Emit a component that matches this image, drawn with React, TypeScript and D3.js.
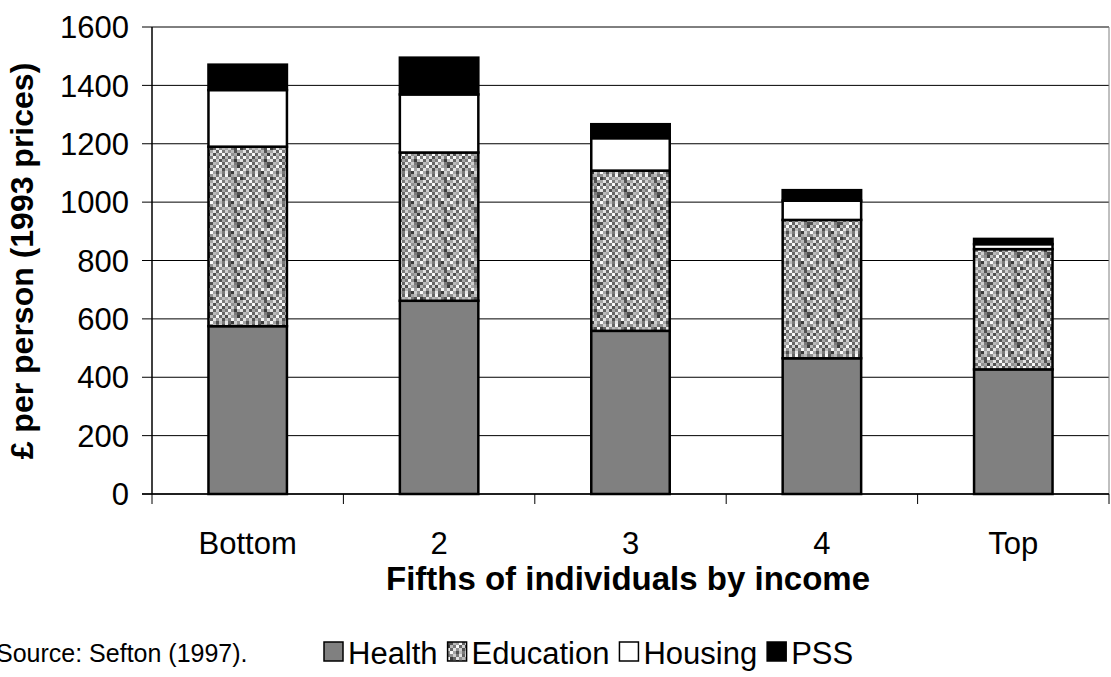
import React from "react";
import * as d3 from "d3";

const categories = ["Bottom", "2", "3", "4", "Top"];
const seriesNames = ["Health", "Education", "Housing", "PSS"];
const health = [575, 662, 559, 465, 427];
const education = [615, 508, 549, 474, 412];
const housing = [194, 199, 111, 66, 17];
const pss = [87, 126, 48, 36, 18];
const yTicks = [0, 200, 400, 600, 800, 1000, 1200, 1400, 1600];

const W = 1111;
const H = 677;
const left = 152;
const right = 1109;
const top = 27;
const bottom = 494;

// deterministic texture tile for the "Education" fill (grayscale levels 0-9)
const tile = [
  "5829374615",
  "7163928450",
  "3948162739",
  "8271539406",
  "1659284731",
  "6392718540",
  "2847163958",
  "9516382074",
  "4738291563",
  "0284657319",
];

// Arial / Liberation Sans advance widths (em) for legend layout
const EM: Record<string, number> = { Health: 2.89, Education: 4.447, Housing: 3.668, PSS: 2.001 };

export default function App() {
  const x = d3.scaleBand<string>().domain(categories).range([left, right]).paddingInner(0.59).paddingOuter(0.295);
  const band = d3.scaleBand<string>().domain(categories).range([left, right]);
  const y = d3.scaleLinear().domain([0, 1600]).range([bottom, top]);

  const table = categories.map((c, i) => ({
    cat: c,
    Health: health[i],
    Education: education[i],
    Housing: housing[i],
    PSS: pss[i],
  }));
  const stacked = d3.stack<any>().keys(seriesNames)(table);
  const fills: Record<string, string> = {
    Health: "#808080",
    Education: "url(#edu)",
    Housing: "#ffffff",
    PSS: "#000000",
  };
  const font = "'Liberation Sans', Arial, sans-serif";
  const px = 3;
  const grays = (d: string) => {
    const v = Math.round(60 + (+d) * 21);
    return `rgb(${v},${v},${v})`;
  };

  const legendFont = 31;
  let lx = 324;
  const legendItems = seriesNames.map((name) => {
    const item = { name, x: lx };
    lx += 24 + EM[name] * legendFont + 10;
    return item;
  });

  return (
    <svg width={W} height={H} style={{ position: "absolute", left: 0, top: 0 }} fontFamily={font}>
      <defs>
        <pattern id="edu" width={tile.length * px} height={tile.length * px} patternUnits="userSpaceOnUse">
          <rect width={tile.length * px} height={tile.length * px} fill="#a0a0a0" />
          {tile.map((row, r) =>
            row.split("").map((d, c) => (
              <rect key={`${r}-${c}`} x={c * px} y={r * px} width={px} height={px} fill={grays(d)} />
            ))
          )}
        </pattern>
      </defs>
      <rect width={W} height={H} fill="#fff" />
      {/* gridlines */}
      {yTicks.map((t) => (
        <line key={t} x1={142} x2={right} y1={y(t)} y2={y(t)} stroke="#000" strokeWidth={1} />
      ))}
      <line x1={right} x2={right} y1={top} y2={bottom} stroke="#808080" strokeWidth={1} />
      {/* bars */}
      {stacked.map((s) =>
        s.map((d, i) => (
          <rect
            key={s.key + i}
            x={x(categories[i])}
            width={x.bandwidth()}
            y={y(d[1])}
            height={y(d[0]) - y(d[1])}
            fill={fills[s.key]}
            stroke="#000"
            strokeWidth={2.5}
          />
        ))
      )}
      {/* axes */}
      <line x1={left} x2={left} y1={top} y2={bottom} stroke="#000" strokeWidth={1.5} />
      <line x1={142} x2={right} y1={bottom} y2={bottom} stroke="#000" strokeWidth={1.5} />
      {categories.map((c) => (
        <line key={c} x1={band(c)!} x2={band(c)!} y1={bottom} y2={bottom + 10} stroke="#000" strokeWidth={1} />
      ))}
      <line x1={right} x2={right} y1={bottom} y2={bottom + 10} stroke="#000" strokeWidth={1} />
      {yTicks.map((t) => (
        <text key={t} x={129} y={y(t)} dy="0.36em" textAnchor="end" fontSize={31}>
          {t}
        </text>
      ))}
      {categories.map((c) => (
        <text key={c} x={band(c)! + band.bandwidth() / 2} y={554} textAnchor="middle" fontSize={31}>
          {c}
        </text>
      ))}
      <text x={628} y={590} textAnchor="middle" fontSize={33} fontWeight="bold">
        Fifths of individuals by income
      </text>
      <text
        transform={`translate(33, 261) rotate(-90)`}
        textAnchor="middle"
        fontSize={32}
        fontWeight="bold"
      >
        £ per person (1993 prices)
      </text>
      <text x={-4} y={662} fontSize={25}>
        Source: Sefton (1997).
      </text>
      {legendItems.map((it) => (
        <g key={it.name}>
          <rect x={it.x} y={642} width={19} height={19} fill={fills[it.name]} stroke="#000" strokeWidth={1.5} />
          <text x={it.x + 24} y={664} fontSize={legendFont}>
            {it.name}
          </text>
        </g>
      ))}
    </svg>
  );
}
